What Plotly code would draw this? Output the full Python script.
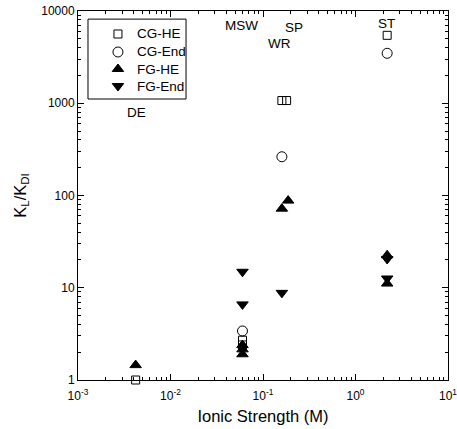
import math
import plotly.graph_objects as go

# Ionic strength (M) of each sample site
site_names = ["DE", "MSW", "WR", "SP", "ST"]
site_label_x = [0.0043, 0.058, 0.149, 0.215, 2.16]
site_label_y = [800, 7000, 4480, 6700, 7400]

# K_L / K_DI ratios per series
cg_he_x = [0.0042, 0.06, 0.06, 0.16, 0.18, 2.2]
cg_he_y = [1.0, 2.7, 2.4, 1070, 1070, 5450]

cg_end_x = [0.06, 0.16, 2.2]
cg_end_y = [3.4, 263, 3480]

fg_he_x = [0.0042, 0.06, 0.06, 0.06, 0.16, 0.187, 2.2, 2.2]
fg_he_y = [1.45, 2.39, 2.15, 1.9, 72, 88, 22.5, 11.1]

fg_end_x = [0.06, 0.06, 0.16, 2.2, 2.2]
fg_end_y = [14.9, 6.6, 8.8, 20.5, 12.6]

x_tick_vals = [0.001, 0.01, 0.1, 1, 10]
x_tick_text = ["10<sup>-3</sup>", "10<sup>-2</sup>", "10<sup>-1</sup>",
               "10<sup>0</sup>", "10<sup>1</sup>"]
y_tick_vals = [1, 10, 100, 1000, 10000]
y_tick_text = ["1", "10", "100", "1000", "10000"]

FONT = "Liberation Sans, Arial, sans-serif"

def minor_vals(lo, hi):
    vals = []
    for e in range(lo, hi):
        for d in range(2, 10):
            vals.append(d * 10 ** e)
    return vals

series = [
    ("CG-HE", cg_he_x, cg_he_y, "square-open", 8),
    ("CG-End", cg_end_x, cg_end_y, "circle-open", 10),
    ("FG-HE", fg_he_x, fg_he_y, "triangle-up", 10),
    ("FG-End", fg_end_x, fg_end_y, "triangle-down", 10),
]

fig = go.Figure()

for name, xs, ys, sym, size in series:
    fig.add_trace(go.Scatter(
        x=xs, y=ys, mode="markers", name=name, cliponaxis=False,
        showlegend=False,
        marker=dict(symbol=sym, size=size, color="black",
                    line=dict(color="black", width=1)),
    ))

# boxed key in the upper-left corner, drawn on a 0..1 overlay frame
KEY_BOX = (0.027, 0.7615, 0.292, 0.978)
KEY_SYMBOL_X = 0.108
KEY_TEXT_X = 0.155
KEY_ROW_Y = [0.9377, 0.8889, 0.8428, 0.7967]

fig.add_shape(type="rect", xref="paper", yref="paper",
              x0=KEY_BOX[0], y0=KEY_BOX[1], x1=KEY_BOX[2], y1=KEY_BOX[3],
              line=dict(color="black", width=1), fillcolor="white", layer="below")
for (name, _, _, sym, size), ry in zip(series, KEY_ROW_Y):
    fig.add_trace(go.Scatter(
        x=[KEY_SYMBOL_X], y=[ry], xaxis="x2", yaxis="y2", mode="markers",
        name=name, showlegend=False, cliponaxis=False, hoverinfo="skip",
        marker=dict(symbol=sym, size=size, color="black",
                    line=dict(color="black", width=1)),
    ))
    fig.add_annotation(x=KEY_TEXT_X, y=ry, xref="paper", yref="paper",
                       xanchor="left", yanchor="middle", text=name,
                       showarrow=False,
                       font=dict(size=13.5, color="black", family=FONT))

# site labels (annotation coordinates on log axes are log10 values)
for name, lx, ly in zip(site_names, site_label_x, site_label_y):
    fig.add_annotation(x=math.log10(lx), y=math.log10(ly), xref="x", yref="y",
                       text=name, showarrow=False,
                       font=dict(size=13.5, color="black", family=FONT))

axis_common = dict(
    type="log", showgrid=False, zeroline=False, automargin=False,
    showline=True, linecolor="black", linewidth=1, mirror="ticks",
    ticks="inside", ticklen=6, tickcolor="black", tickwidth=1,
    tickfont=dict(size=12, color="black", family=FONT),
    ticklabeloverflow="allow",
)

fig.update_xaxes(
    **axis_common, range=[-3, 1],
    tickvals=x_tick_vals, ticktext=x_tick_text, ticklabelstandoff=5,
    minor=dict(ticks="inside", ticklen=3, tickcolor="black",
               tickvals=minor_vals(-3, 1)),
    title=dict(text="Ionic Strength (M)", standoff=8,
               font=dict(size=16.5, color="black", family=FONT)),
)
fig.update_yaxes(
    **axis_common, range=[0, 4],
    tickvals=y_tick_vals, ticktext=y_tick_text,
    minor=dict(ticks="inside", ticklen=3, tickcolor="black",
               tickvals=minor_vals(0, 4)),
    title=dict(text="K<sub>L</sub>/K<sub>DI</sub>", standoff=10,
               font=dict(size=16.5, color="black", family=FONT)),
)

fig.update_layout(
    template="none",
    width=457, height=429,
    margin=dict(l=78, r=9, t=11, b=49),
    paper_bgcolor="white", plot_bgcolor="white",
    showlegend=False,
    xaxis2=dict(overlaying="x", range=[0, 1], visible=False, automargin=False),
    yaxis2=dict(overlaying="y", range=[0, 1], visible=False, automargin=False),
)

fig.write_html("out.html")
